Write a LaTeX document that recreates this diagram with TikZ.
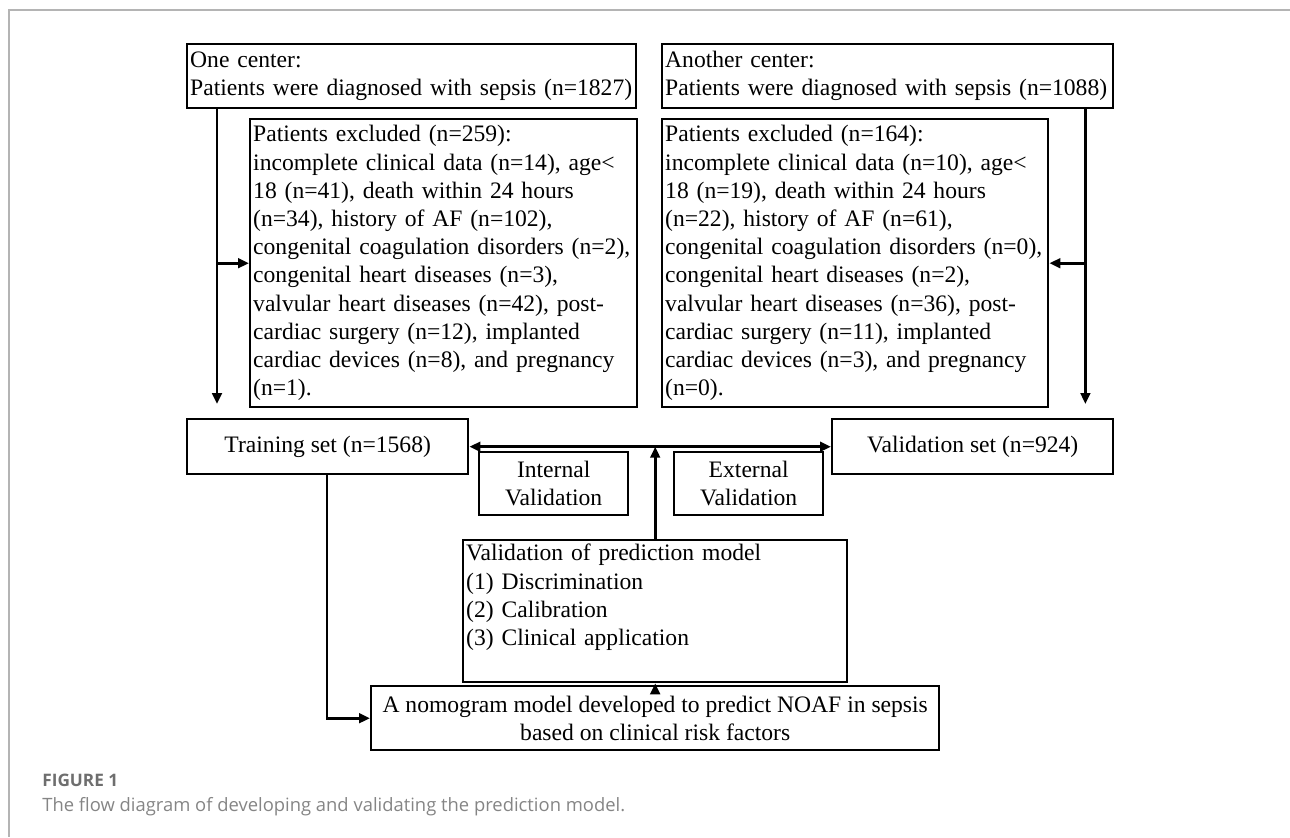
\documentclass[tikz,border=0pt]{standalone}
\usepackage{fontspec}
\setmainfont{Liberation Serif}
\newfontfamily\capfont{Open Sans}
\usetikzlibrary{positioning,arrows.meta}
\definecolor{framegray}{HTML}{B4B4B4}
\definecolor{capgray}{HTML}{6E6E6E}
\definecolor{capgraylight}{HTML}{858585}

\begin{document}
\begin{tikzpicture}[x=0.5pt, y=-0.5pt,
  box/.style={draw, line width=1.2pt, font=\fontsize{11.8}{14.1}\selectfont, inner xsep=1.5pt, inner ysep=2pt, anchor=north west},
  lbox/.style={box, align=left},
  cbox/.style={box, align=center},
  arr/.style={-{Triangle[length=5.5pt, width=4.8pt]}, line width=1.4pt},
  darr/.style={arr, {Triangle[length=5.5pt, width=4.8pt]}-{Triangle[length=5.5pt, width=4.8pt]}}]
\useasboundingbox (0,0) rectangle (1290,837);
\draw[framegray, line width=0.8pt] (1290,10) -- (9,10) -- (9,837);
\node[lbox, text width=221.5pt, minimum height=32pt] (c1) at (186,43) {One center:\\Patients were diagnosed with sepsis (n=1827)};
\node[lbox, text width=222.5pt, minimum height=32pt] (c2) at (661,43) {Another center:\\Patients were diagnosed with sepsis (n=1088)};
\node[lbox, text width=190.5pt, minimum height=144pt] (ex1) at (249,118) {Patients excluded (n=259):\\incomplete clinical data (n=14), age<\\18 (n=41), death within 24 hours\\(n=34), history of AF (n=102),\\congenital coagulation disorders (n=2),\\congenital heart diseases (n=3),\\valvular heart diseases (n=42), post-\\cardiac surgery (n=12), implanted\\cardiac devices (n=8), and pregnancy\\(n=1).};
\node[lbox, text width=190pt, minimum height=144pt] (ex2) at (661,118) {Patients excluded (n=164):\\incomplete clinical data (n=10), age<\\18 (n=19), death within 24 hours\\(n=22), history of AF (n=61),\\congenital coagulation disorders (n=0),\\congenital heart diseases (n=2),\\valvular heart diseases (n=36), post-\\cardiac surgery (n=11), implanted\\cardiac devices (n=3), and pregnancy\\(n=0).};
\node[cbox, minimum width=140.5pt, minimum height=27.5pt] (train) at (186,418) {Training set (n=1568)};
\node[cbox, minimum width=140.5pt, minimum height=27.5pt] (val) at (831,418) {Validation set (n=924)};
\node[cbox, minimum width=74.5pt, minimum height=31.5pt] (int) at (478,451) {Internal\\Validation};
\node[cbox, minimum width=74.5pt, minimum height=31.5pt] (ext) at (673,451) {External\\Validation};
\node[lbox, text width=189pt, minimum height=64.5pt] (vmod) at (462,539) {Validation of prediction model\\(1) Discrimination\\(2) Calibration\\(3) Clinical application\\[-2pt]\strut};
\node[cbox, minimum width=284pt, minimum height=32pt] (nomo) at (370,685) {A nomogram model developed to predict NOAF in sepsis\\based on clinical risk factors};
\coordinate (j1) at ([xshift=15.5pt]c1.south west);
\coordinate (j2) at ([xshift=-14.5pt]c2.south east);
\coordinate (j3) at ([xshift=70.5pt]train.south west);
\draw[arr, shorten >=7pt] (j1) -- (j1 |- train.north); \draw[arr] (j1 |- ex1.west) -- (ex1.west);
\draw[arr, shorten >=7pt] (j2) -- (j2 |- val.north); \draw[arr] (j2 |- ex2.east) -- (ex2.east);
\draw[darr] (train.east) -- (val.west);
\draw[arr] (vmod.north) -- (vmod.north |- train.east);
\draw[arr] (j3) |- (nomo.west);
\draw[arr] (nomo.north) -- (vmod.south);
\node[anchor=west, inner sep=0pt, font=\capfont\bfseries\fontsize{8.6}{10}\selectfont, text=capgray] (fig) at (42,780) {FIGURE 1};
\node[anchor=west, inner sep=0pt, font=\capfont\fontsize{9.2}{11}\selectfont, text=capgraylight] (cap) at (42,807) {The flow diagram of developing and validating the prediction model.};
\end{tikzpicture}
\end{document}
